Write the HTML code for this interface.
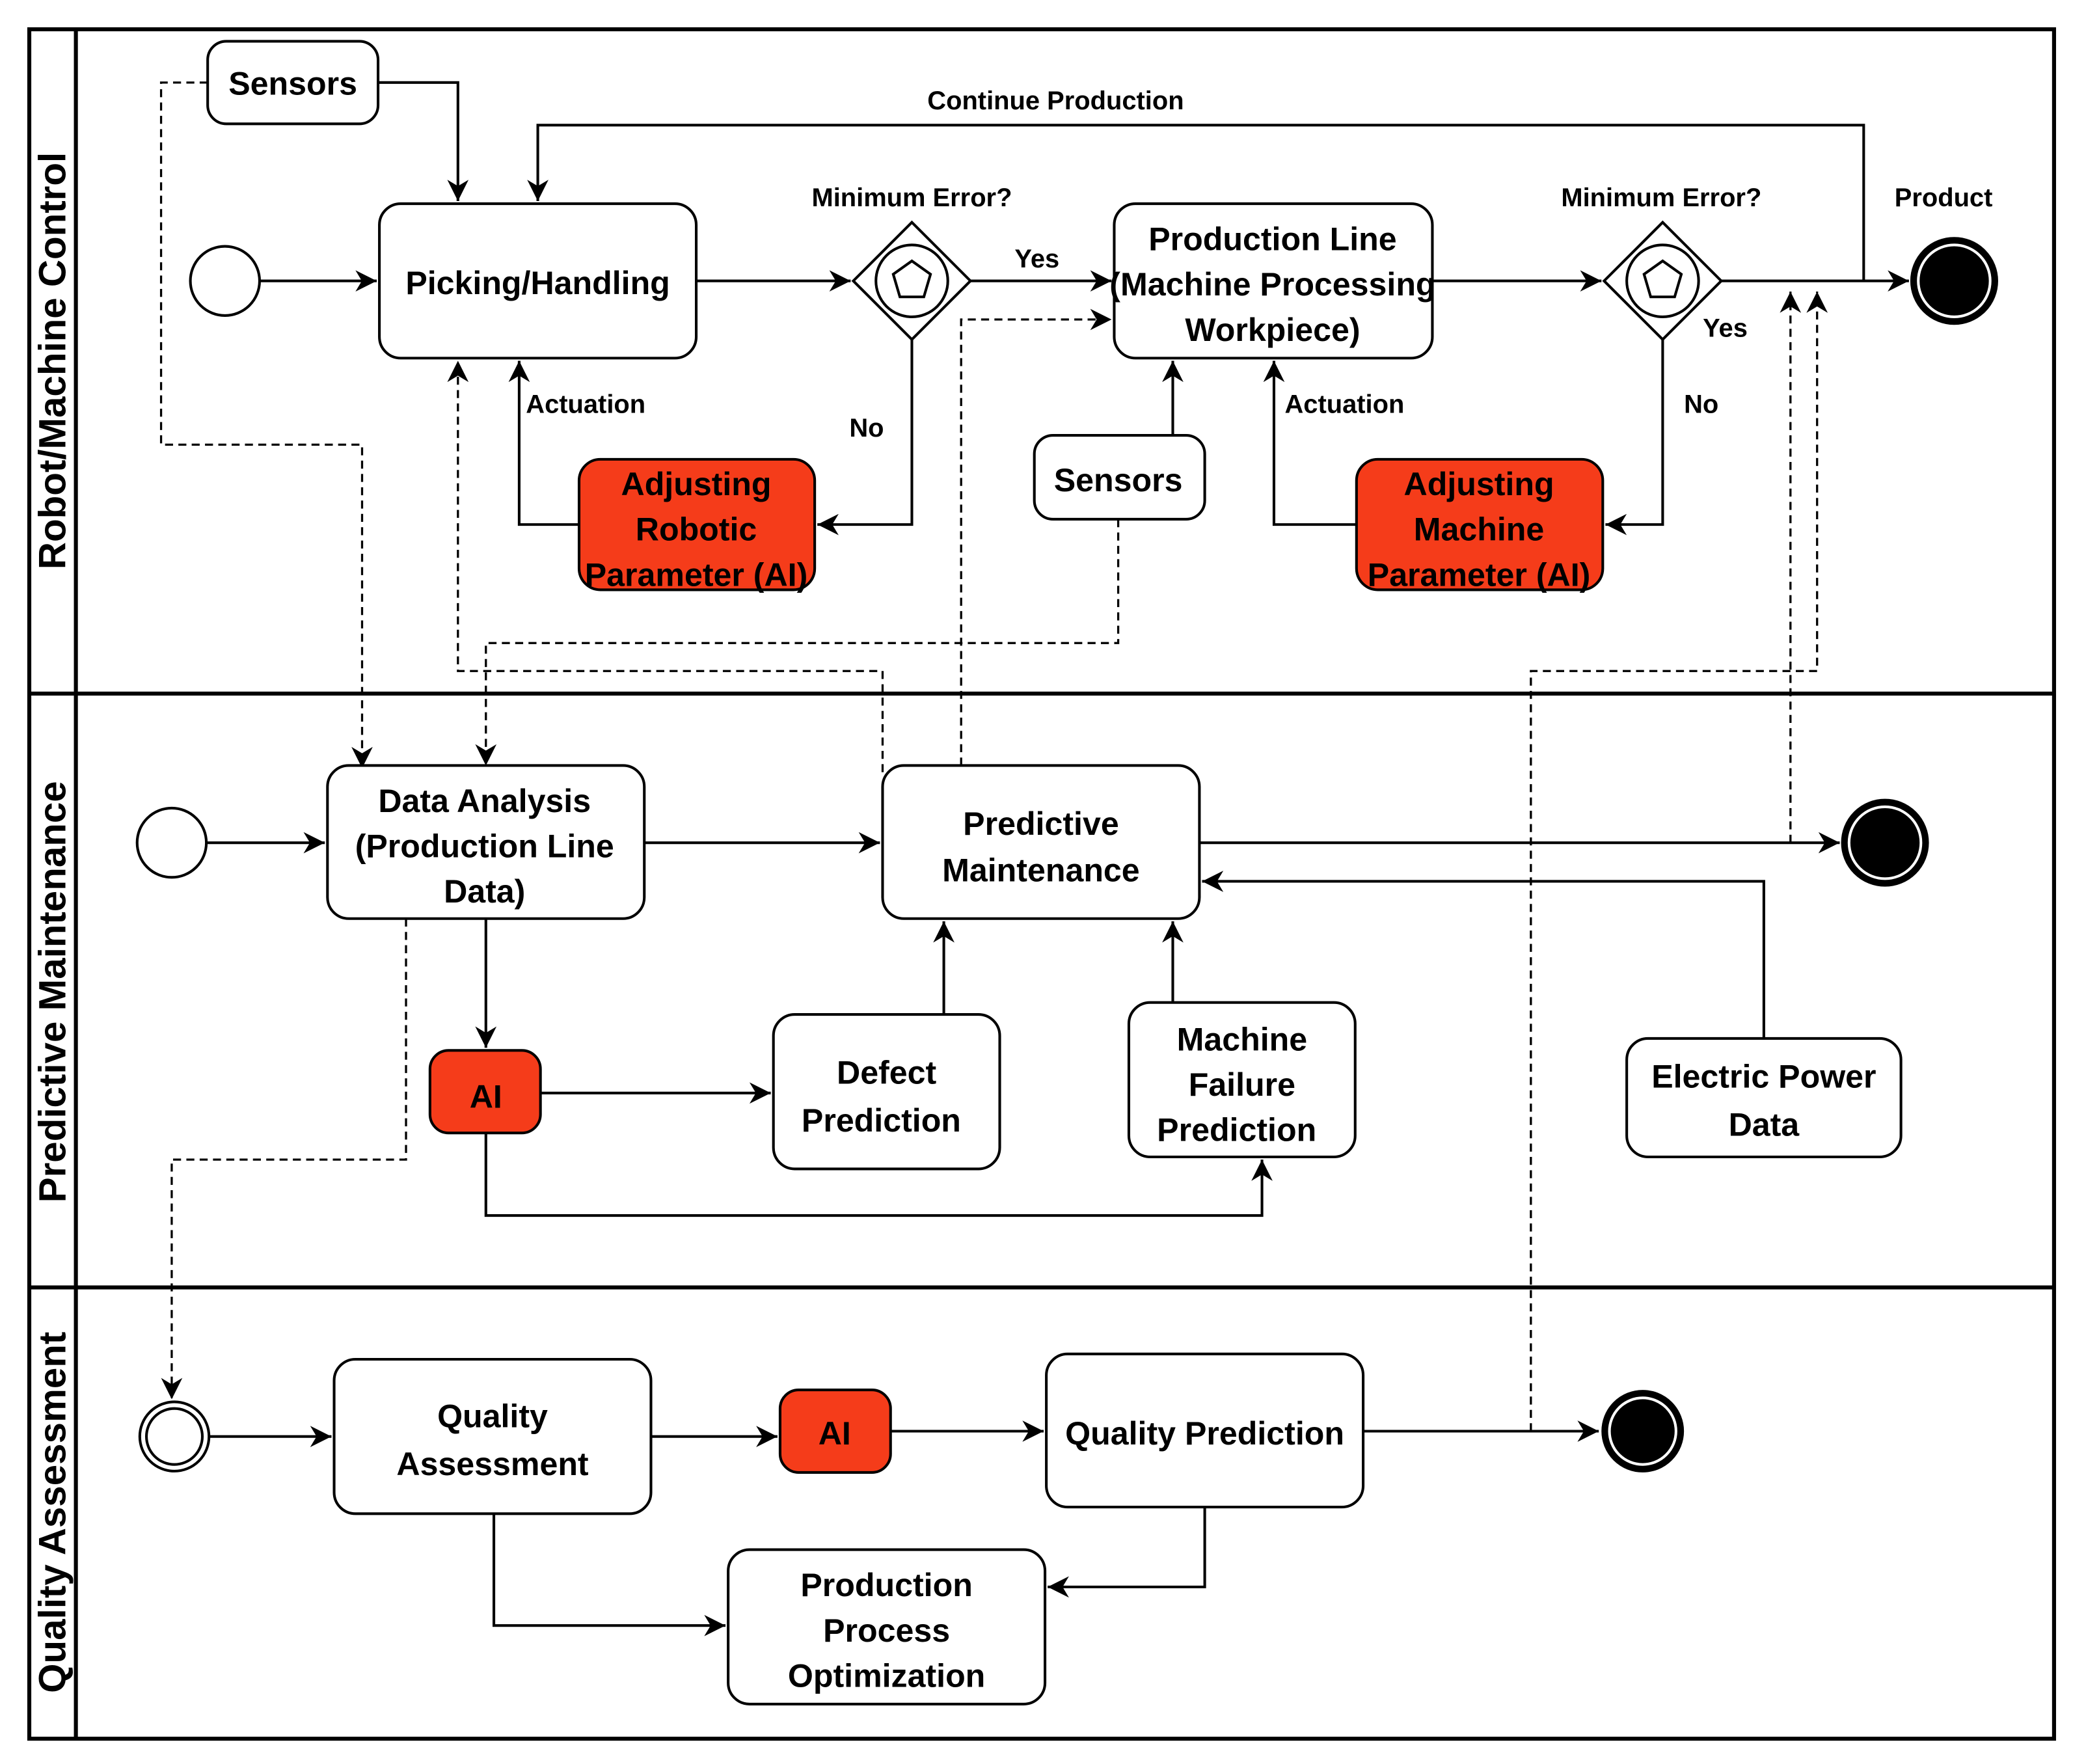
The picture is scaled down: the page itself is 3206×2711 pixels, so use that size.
<!DOCTYPE html>
<html><head><meta charset="utf-8"><style>
html,body{margin:0;padding:0;background:#fff}
svg{display:block}
text{font-family:"Liberation Sans",Arial,sans-serif;font-weight:bold;fill:#000}
.b{fill:#fff;stroke:#000;stroke-width:2}
.r{fill:#f53c1a;stroke:#000;stroke-width:2}
.l{fill:none;stroke:#000;stroke-width:2}
.d{fill:none;stroke:#000;stroke-width:1.6;stroke-dasharray:6 4}
.t{font-size:24.5px;text-anchor:middle}
.s{font-size:19.5px;text-anchor:middle}
.lane{font-size:28.5px;text-anchor:middle}
</style></head><body>
<svg width="3206" height="2711" viewBox="0 0 1567 1325" preserveAspectRatio="none" xmlns="http://www.w3.org/2000/svg">
<defs>
<marker id="m" viewBox="0 0 10 10" refX="10" refY="5" markerWidth="16" markerHeight="16" markerUnits="userSpaceOnUse" orient="auto"><path d="M0,0 L10,5 L0,10 L3,5 z" fill="#000"/></marker></defs>
<rect x="22" y="22" width="1521" height="1284" fill="none" stroke="#000" stroke-width="3"/>
<line x1="57" y1="22" x2="57" y2="1306" stroke="#000" stroke-width="3"/>
<line x1="22" y1="521" x2="1543" y2="521" stroke="#000" stroke-width="3"/>
<line x1="22" y1="967" x2="1543" y2="967" stroke="#000" stroke-width="3"/>
<text class="lane" transform="translate(49,271) rotate(-90)">Robot/Machine Control</text>
<text class="lane" transform="translate(49,745) rotate(-90)">Predictive Maintenance</text>
<text class="lane" transform="translate(49,1136) rotate(-90)">Quality Assessment</text>

<path class="d" d="M156,62 H121 V334 H272 V577" marker-end="url(#m)"/>
<path class="d" d="M840,390 V483 H365 V575" marker-end="url(#m)"/>
<path class="d" d="M663,580 V504 H344 V271" marker-end="url(#m)"/>
<path class="d" d="M722,575 V240 H835" marker-end="url(#m)"/>
<path class="d" d="M1150,1075 V504 H1365 V219" marker-end="url(#m)"/>
<path class="d" d="M1345,633 V219" marker-end="url(#m)"/>
<path class="d" d="M305,690 V871 H129 V1051" marker-end="url(#m)"/>

<path class="l" d="M284,62 H344 V151" marker-end="url(#m)"/>
<path class="l" d="M1400,211 V94 H404 V151" marker-end="url(#m)"/>
<path class="l" d="M195,211 H283" marker-end="url(#m)"/>
<path class="l" d="M523,211 H639" marker-end="url(#m)"/>
<path class="l" d="M729,211 H835" marker-end="url(#m)"/>
<path class="l" d="M685,255 V394 H614" marker-end="url(#m)"/>
<path class="l" d="M435,394 H390 V271" marker-end="url(#m)"/>
<path class="l" d="M1076,211 H1203" marker-end="url(#m)"/>
<path class="l" d="M1293,211 H1434" marker-end="url(#m)"/>
<path class="l" d="M1249,255 V394 H1206" marker-end="url(#m)"/>
<path class="l" d="M1019,394 H957 V271" marker-end="url(#m)"/>
<path class="l" d="M881,327 V271" marker-end="url(#m)"/>

<rect class="b" x="156" y="31" width="128" height="62" rx="14"/><text class="t" x="220" y="71">Sensors</text>
<circle class="b" cx="169" cy="211" r="26"/>
<rect class="b" x="285" y="153" width="238" height="116" rx="16"/><text class="t" x="404" y="221">Picking/Handling</text>
<g><polygon class="b" points="685,167 729,211 685,255 641,211"/><circle class="l" cx="685" cy="211" r="27" stroke-width="1.5"/><polygon class="l" stroke-width="1.5" points="685,196 699,206 694,223 676,223 671,206"/></g>
<rect class="b" x="837" y="153" width="239" height="116" rx="16"/>
<text class="t" x="956" y="188">Production Line</text><text class="t" x="956" y="222">(Machine Processing</text><text class="t" x="956" y="256">Workpiece)</text>
<g><polygon class="b" points="1249,167 1293,211 1249,255 1205,211"/><circle class="l" cx="1249" cy="211" r="27" stroke-width="1.5"/><polygon class="l" stroke-width="1.5" points="1249,196 1263,206 1258,223 1240,223 1235,206"/></g>
<circle cx="1468" cy="211" r="32" fill="#000" stroke="#000" stroke-width="2"/><circle cx="1468" cy="211" r="27" fill="#000" stroke="#fff" stroke-width="2"/>
<rect class="r" x="435" y="345" width="177" height="98" rx="16"/>
<text class="t" x="523" y="372">Adjusting</text><text class="t" x="523" y="406">Robotic</text><text class="t" x="523" y="440">Parameter (AI)</text>
<rect class="b" x="777" y="327" width="128" height="63" rx="14"/><text class="t" x="840" y="369">Sensors</text>
<rect class="r" x="1019" y="345" width="185" height="98" rx="16"/>
<text class="t" x="1111" y="372">Adjusting</text><text class="t" x="1111" y="406">Machine</text><text class="t" x="1111" y="440">Parameter (AI)</text>
<text class="s" x="793" y="82">Continue Production</text>
<text class="s" x="685" y="155">Minimum Error?</text>
<text class="s" x="779" y="201">Yes</text>
<text class="s" x="651" y="328">No</text>
<text class="s" x="440" y="310">Actuation</text>
<text class="s" x="1010" y="310">Actuation</text>
<text class="s" x="1248" y="155">Minimum Error?</text>
<text class="s" x="1296" y="253">Yes</text>
<text class="s" x="1278" y="310">No</text>
<text class="s" x="1460" y="155">Product</text>

<path class="l" d="M155,633 H244" marker-end="url(#m)"/>
<path class="l" d="M484,633 H661" marker-end="url(#m)"/>
<path class="l" d="M901,633 H1382" marker-end="url(#m)"/>
<path class="l" d="M1325,780 V662 H903" marker-end="url(#m)"/>
<path class="l" d="M365,690 V787" marker-end="url(#m)"/>
<path class="l" d="M406,821 H579" marker-end="url(#m)"/>
<path class="l" d="M709,762 V692" marker-end="url(#m)"/>
<path class="l" d="M881,753 V692" marker-end="url(#m)"/>
<path class="l" d="M365,851 V913 H948 V871" marker-end="url(#m)"/>

<circle class="b" cx="129" cy="633" r="26"/>
<rect class="b" x="246" y="575" width="238" height="115" rx="16"/>
<text class="t" x="364" y="610">Data Analysis</text><text class="t" x="364" y="644">(Production Line</text><text class="t" x="364" y="678">Data)</text>
<rect class="b" x="663" y="575" width="238" height="115" rx="16"/>
<text class="t" x="782" y="627">Predictive</text><text class="t" x="782" y="662">Maintenance</text>
<circle cx="1416" cy="633" r="32" fill="#000" stroke="#000" stroke-width="2"/><circle cx="1416" cy="633" r="27" fill="#000" stroke="#fff" stroke-width="2"/>
<rect class="r" x="323" y="789" width="83" height="62" rx="14"/><text class="t" x="365" y="832">AI</text>
<rect class="b" x="581" y="762" width="170" height="116" rx="16"/>
<text class="t" x="666" y="814">Defect</text><text class="t" x="662" y="850">Prediction</text>
<rect class="b" x="848" y="753" width="170" height="116" rx="16"/>
<text class="t" x="933" y="789">Machine</text><text class="t" x="933" y="823">Failure</text><text class="t" x="929" y="857">Prediction</text>
<rect class="b" x="1222" y="780" width="206" height="89" rx="16"/>
<text class="t" x="1325" y="817">Electric Power</text><text class="t" x="1325" y="853">Data</text>

<path class="l" d="M157,1079 H249" marker-end="url(#m)"/>
<path class="l" d="M489,1079 H584" marker-end="url(#m)"/>
<path class="l" d="M669,1075 H784" marker-end="url(#m)"/>
<path class="l" d="M1024,1075 H1201" marker-end="url(#m)"/>
<path class="l" d="M905,1132 V1192 H787" marker-end="url(#m)"/>
<path class="l" d="M371,1137 V1221 H545" marker-end="url(#m)"/>
<circle class="b" cx="131" cy="1079" r="26"/><circle class="l" cx="131" cy="1079" r="21" stroke-width="1.5"/>
<rect class="b" x="251" y="1021" width="238" height="116" rx="16"/>
<text class="t" x="370" y="1072">Quality</text><text class="t" x="370" y="1108">Assessment</text>
<rect class="r" x="586" y="1044" width="83" height="62" rx="14"/><text class="t" x="627" y="1085">AI</text>
<rect class="b" x="786" y="1017" width="238" height="115" rx="16"/><text class="t" x="905" y="1085">Quality Prediction</text>
<circle cx="1234" cy="1075" r="30" fill="#000" stroke="#000" stroke-width="2"/><circle cx="1234" cy="1075" r="25" fill="#000" stroke="#fff" stroke-width="2"/>
<rect class="b" x="547" y="1164" width="238" height="116" rx="16"/>
<text class="t" x="666" y="1199">Production</text><text class="t" x="666" y="1233">Process</text><text class="t" x="666" y="1267">Optimization</text>
</svg>
</body></html>
